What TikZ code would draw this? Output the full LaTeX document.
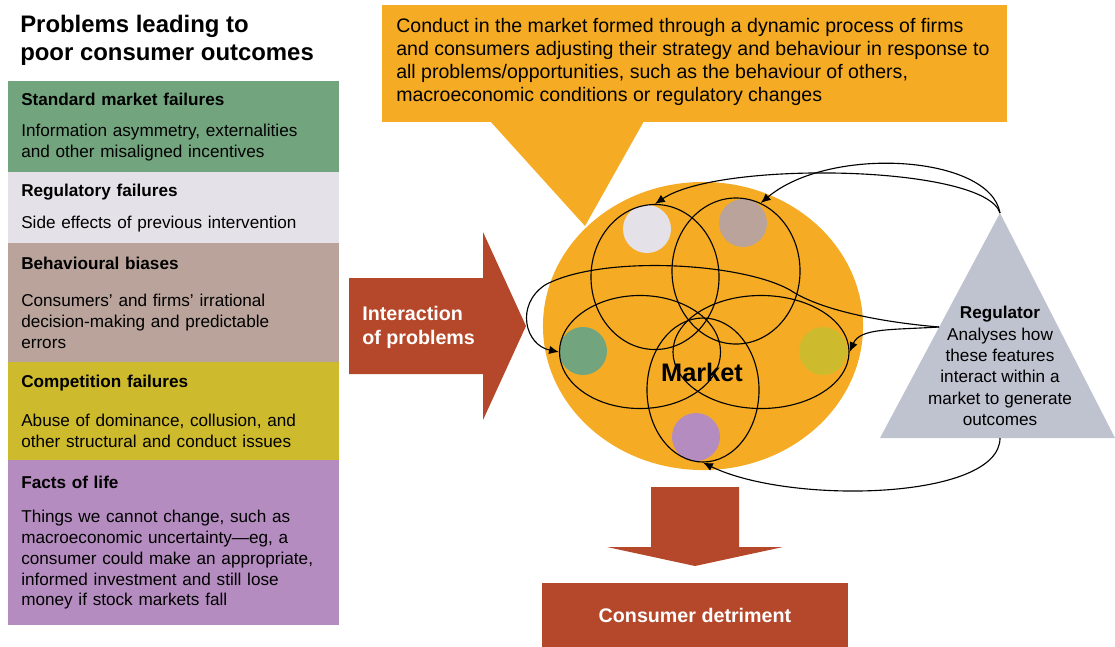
\documentclass[tikz,border=0pt]{standalone}
\usepackage{fontspec}
\setmainfont{Liberation Sans}
\usetikzlibrary{shapes.geometric,arrows.meta}
\definecolor{amber}{RGB}{245,172,36}
\definecolor{brick}{RGB}{181,71,42}
\definecolor{sage}{RGB}{114,165,126}
\definecolor{mist}{RGB}{229,225,232}
\definecolor{taupe}{RGB}{185,163,155}
\definecolor{olive}{RGB}{206,187,45}
\definecolor{lilac}{RGB}{181,140,192}
\definecolor{slate}{RGB}{190,195,207}
\begin{document}
\begin{tikzpicture}[
  x=0.025cm, y=-0.025cm,
  panel/.style={anchor=north west, inner xsep=0.325cm, inner ysep=0pt, text width=7.625cm,
    align=left, font=\fontsize{12.2}{14.9}\selectfont},
  dot/.style={circle, minimum size=1.2cm, inner sep=0},
  ring/.style={ellipse, draw, line width=0.8pt, inner sep=0},
  arr/.style={-{Latex[length=7pt,width=6pt]}, line width=0.8pt}
]
\useasboundingbox (0,0) rectangle (1115,646);

\node[anchor=north west, align=left, inner sep=0, font=\fontsize{17}{19.9}\selectfont\bfseries]
  (title) at (20,15) {Problems leading to\\poor consumer outcomes};

\node[panel, fill=sage, minimum height=2.275cm] (standard) at (8,81)
  {\textbf{Standard market failures}\\[7pt]Information asymmetry, externalities\\and other misaligned incentives};
\node[panel, fill=mist, minimum height=1.775cm] (regulatory) at (8,172)
  {\textbf{Regulatory failures}\\[8pt]Side effects of previous intervention};
\node[panel, fill=taupe, minimum height=2.975cm] (biases) at (8,243)
  {\textbf{Behavioural biases}\\[12pt]Consumers' and firms' irrational\\decision-making and predictable\\errors};
\node[panel, fill=olive, minimum height=2.45cm] (competition) at (8,362)
  {\textbf{Competition failures}\\[13pt]Abuse of dominance, collusion, and\\other structural and conduct issues};
\node[panel, fill=lilac, minimum height=4.125cm] (life) at (8,460)
  {\textbf{Facts of life}\\[9pt]Things we cannot change, such as\\macroeconomic uncertainty---eg, a\\consumer could make an appropriate,\\informed investment and still lose\\money if stock markets fall};

\fill[brick] (349,278) -- (483,278) -- (483,232) -- (526,326) -- (483,420) -- (483,374) -- (349,374) -- cycle;
\node[anchor=west, align=left, inner sep=0, text=white, font=\fontsize{14}{17}\selectfont\bfseries]
  (interaction) at (362,327) {Interaction\\of problems};

\fill[amber] (382,5) rectangle (1007,122);
\fill[amber] (490,121) -- (644,121) -- (585,226) -- cycle;
\node[anchor=north west, align=left, inner sep=0, font=\fontsize{13.9}{16.3}\selectfont]
  (conduct) at (396,18) {Conduct in the market formed through a dynamic process of firms\\and consumers adjusting their strategy and behaviour in response to\\all problems/opportunities, such as the behaviour of others,\\macroeconomic conditions or regulatory changes};

\node[ellipse, fill=amber, minimum width=8cm, minimum height=7.2cm] (market) at (703,326) {};
\node[dot, fill=mist] (d1) at (647,229) {};
\node[dot, fill=taupe] (d2) at (743,223) {};
\node[dot, fill=sage] (d3) at (583,351) {};
\node[dot, fill=olive] (d4) at (823,351) {};
\node[dot, fill=lilac] (d5) at (696,437) {};
\node[ring, minimum width=3.2cm, minimum height=3.625cm] (r1) at (655,277) {};
\node[ring, minimum width=3.2cm, minimum height=3.65cm] (r2) at (736,271) {};
\node[ring, minimum width=4.025cm, minimum height=2.825cm] (r3) at (640,352) {};
\node[ring, minimum width=4.4cm, minimum height=2.825cm] (r4) at (761,352) {};
\node[ring, minimum width=2.8cm, minimum height=3.6cm] (r5) at (703,390) {};
\node[font=\fontsize{18}{20}\selectfont\bfseries] (label) at (702,372) {Market};

\coordinate (apex) at (1000,213);
\coordinate (side) at (939,327);
\coordinate (base) at (1000,438);
\fill[slate] (apex) -- (1115,438) -- (880,438) -- cycle;
\node[align=center, inner sep=0, font=\fontsize{12.2}{15.2}\selectfont] (regulator) at (1000,366)
  {\textbf{Regulator}\\Analyses how\\these features\\interact within a\\market to generate\\outcomes};

\draw[arr] (apex) .. controls (990,155) and (830,145) .. (r2.70);
\draw[arr] (apex) .. controls (985,165) and (720,160) .. (r1.north);
\draw[arr] (side) .. controls (880,322) and (820,310) .. (790,290)
  .. controls (740,262) and (600,255) .. (545,285)
  .. controls (515,305) and (525,345) .. (r3.west);
\draw[arr] (side) .. controls (890,330) and (860,328) .. (r4.east);
\draw[arr] (base) .. controls (1000,500) and (790,505) .. (r5.south);

\fill[brick] (651,487) -- (739,487) -- (739,547) -- (783,547) -- (695,566) -- (607,547) -- (651,547) -- cycle;
\node[fill=brick, minimum width=7.65cm, minimum height=1.6cm, anchor=north west] (detriment) at (542,583) {};
\node[text=white, font=\fontsize{14}{16}\selectfont\bfseries] (outcome) at (695,615) {Consumer detriment};
\end{tikzpicture}
\end{document}
